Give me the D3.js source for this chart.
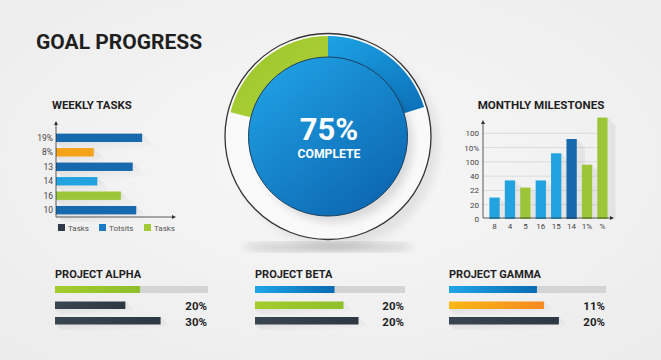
<!DOCTYPE html>
<html>
<head>
<meta charset="utf-8">
<script src="https://cdn.jsdelivr.net/npm/d3@7"></script>
<style>
  html, body { margin: 0; padding: 0; background: #f0f0f0; }
  svg { display: block; font-family: Roboto, "Noto Sans", sans-serif; }
</style>
</head>
<body>
<div class="chart"></div>
<script>
// weekly tasks (horizontal bars)
const weeklyLabels = ["19%", "8%", "13", "14", "16", "10"];
const weeklyValues = [73, 32, 65, 35, 55, 68];
const weeklyColors = ["#1769ad", "#f5a21b", "#1769ad", "#22a3df", "#9cc53a", "#1769ad"];
const weeklyLegend = ["Tasks", "Totsits", "Tasks"];
const weeklyLegendColors = ["#2f3a47", "#1a7cc4", "#a3c93a"];

// monthly milestones (columns)
const monthLabels = ["8", "4", "5", "16", "15", "14", "1%", "%"];
const monthValues = [15, 27, 22, 27, 46, 56, 38, 71];
const monthColors = ["#22a3df", "#22a3df", "#9cc53a", "#22a3df", "#22a3df", "#1769ad", "#9cc53a", "#9cc53a"];
const monthTicks = [0, 10, 20, 30, 40, 50, 60];
const monthTickLabels = ["0", "20", "22", "40", "100", "10%", "100"];

// centre gauge
const goalPercent = "75%";
const goalArcs = [
  {name: "done", start: 0, end: 73},
  {name: "extra", start: -76, end: 0}
];

// projects
const projects = ["PROJECT ALPHA", "PROJECT BETA", "PROJECT GAMMA"];
const projectBars = [
  [55.6, 46, 69],
  [53, 59, 69],
  [56, 60.5, 70]
];
const projectColors = [
  ["green", "dark", "dark"],
  ["blue", "green", "dark"],
  ["blue", "orange", "dark"]
];
const projectLabels = [["", "20%", "30%"], ["", "20%", "20%"], ["", "11%", "20%"]];

const width = 661, height = 360;

const svg = d3.select(".chart").append("svg")
    .attr("width", width)
    .attr("height", height);

const defs = svg.append("defs");

const bg = defs.append("radialGradient").attr("id", "bg").attr("cx", "50%").attr("cy", "45%").attr("r", "70%");
bg.append("stop").attr("offset", "0%").attr("stop-color", "#f7f7f7");
bg.append("stop").attr("offset", "100%").attr("stop-color", "#ececec");

const grad = (id, c1, c2, x2 = "100%", y2 = "0%") => {
    const g = defs.append("linearGradient").attr("id", id)
        .attr("x1", "0%").attr("y1", "0%").attr("x2", x2).attr("y2", y2);
    g.append("stop").attr("offset", "0%").attr("stop-color", c1);
    g.append("stop").attr("offset", "100%").attr("stop-color", c2);
};
grad("g-blue", "#1ea6e6", "#0a6bb3");
grad("g-green", "#a4cc2c", "#8fbf2a");
grad("g-orange", "#fbb714", "#f58a1f");
grad("g-dark", "#3a4552", "#2e3843");
grad("g-disc", "#22a6e8", "#0b66b0", "80%", "100%");
grad("g-arcblue", "#1ca3e4", "#0c70b8", "100%", "100%");
grad("g-arcgreen", "#98c52a", "#b3d33a", "100%", "100%");

const shadowGrad = defs.append("linearGradient").attr("id", "g-shadow")
    .attr("x1", "0%").attr("y1", "0%").attr("x2", "60%").attr("y2", "100%");
shadowGrad.append("stop").attr("offset", "0%").attr("stop-color", "#000").attr("stop-opacity", 0.1);
shadowGrad.append("stop").attr("offset", "100%").attr("stop-color", "#000").attr("stop-opacity", 0);

defs.append("filter").attr("id", "blur").attr("x", "-50%").attr("y", "-50%").attr("width", "200%").attr("height", "200%")
    .append("feGaussianBlur").attr("stdDeviation", 4);

svg.append("rect").attr("width", width).attr("height", height).attr("fill", "url(#bg)");

// long diagonal shadow behind a horizontal bar
const barShadow = (g, x0, x1, y, h, len) => {
    g.append("path")
        .attr("d", `M${x0},${y + h} L${x1},${y} L${x1 + len},${y + len} L${x0 + len * 0.4},${y + h + len * 0.4} Z`)
        .attr("fill", "url(#g-shadow)");
};

svg.append("text")
    .attr("x", 36).attr("y", 49)
    .attr("font-size", 21).attr("font-weight", 700)
    .attr("fill", "#1f1f1f")
    .text("GOAL PROGRESS");

// ---------- weekly tasks ----------
const wk = svg.append("g");
wk.append("text").attr("x", 52).attr("y", 109)
    .attr("font-size", 11.4).attr("font-weight", 700).attr("fill", "#1f1f1f")
    .text("WEEKLY TASKS");

const wx = d3.scaleLinear().domain([0, 100]).range([56, 174]);
const wy = d3.scaleBand().domain(weeklyLabels).range([130, 218]).paddingInner(0.42).paddingOuter(0.25);

weeklyValues.forEach((v, i) => barShadow(wk, wx(0), wx(v), wy(weeklyLabels[i]), wy.bandwidth(), 18));

wk.selectAll("rect.bar")
    .data(weeklyValues)
    .enter().append("rect")
    .attr("class", "bar")
    .attr("x", wx(0))
    .attr("y", (d, i) => wy(weeklyLabels[i]))
    .attr("width", d => wx(d) - wx(0))
    .attr("height", wy.bandwidth())
    .attr("fill", (d, i) => weeklyColors[i]);

wk.selectAll("text.lbl")
    .data(weeklyLabels)
    .enter().append("text")
    .attr("class", "lbl")
    .attr("x", 53)
    .attr("y", d => wy(d) + wy.bandwidth() / 2 + 3)
    .attr("text-anchor", "end")
    .attr("font-size", 8.5).attr("fill", "#444")
    .text(d => d);

wk.append("path").attr("d", "M56,123 V217 H174").attr("fill", "none").attr("stroke", "#333").attr("stroke-width", 0.8);
wk.append("path").attr("d", "M54,125 L56,121 L58,125 Z M172,215 L176,217 L172,219 Z").attr("fill", "#333");

const wl = wk.selectAll("g.leg").data(weeklyLegend).enter().append("g")
    .attr("transform", (d, i) => `translate(${[58, 99, 144][i]},224)`);
wl.append("rect").attr("width", 7).attr("height", 7).attr("fill", (d, i) => weeklyLegendColors[i]);
wl.append("text").attr("x", 10).attr("y", 7).attr("font-size", 8).attr("fill", "#555").text(d => d);

// ---------- monthly milestones ----------
const mm = svg.append("g");
mm.append("text").attr("x", 541).attr("y", 109).attr("text-anchor", "middle")
    .attr("font-size", 11.6).attr("font-weight", 700).attr("fill", "#1f1f1f")
    .text("MONTHLY MILESTONES");

const mx = d3.scaleBand().domain(monthLabels).range([484, 613]).paddingInner(0.33).paddingOuter(0.35);
const my = d3.scaleLinear().domain([0, 70]).range([219, 119]);

mm.append("g").selectAll("line")
    .data(monthTicks.slice(1))
    .enter().append("line")
    .attr("x1", 483).attr("x2", 606)
    .attr("y1", d => my(d)).attr("y2", d => my(d))
    .attr("stroke", "#d6d6d6").attr("stroke-width", 0.8);

mm.selectAll("path.sh")
    .data(monthValues)
    .enter().append("path")
    .attr("class", "sh")
    .attr("d", (d, i) => {
        const x = mx(monthLabels[i]) + mx.bandwidth();
        return `M${x},${my(d)} L${x + 8},${my(d) + 8} L${x + 8},${my(0)} L${x},${my(0)} Z`;
    })
    .attr("fill", "#000").attr("opacity", 0.05);

mm.selectAll("rect.col")
    .data(monthValues)
    .enter().append("rect")
    .attr("class", "col")
    .attr("x", (d, i) => mx(monthLabels[i]))
    .attr("y", d => my(d))
    .attr("width", mx.bandwidth())
    .attr("height", d => my(0) - my(d))
    .attr("fill", (d, i) => monthColors[i]);

const yAxis = d3.axisLeft(my).tickValues(monthTicks).tickSize(0).tickPadding(4)
    .tickFormat((d, i) => monthTickLabels[i]);
const ya = mm.append("g").attr("transform", "translate(483,0)").call(yAxis);
ya.select(".domain").remove();
ya.selectAll("text").attr("font-size", 8).attr("fill", "#444").attr("font-family", "Roboto, sans-serif");

const xAxis = d3.axisBottom(mx).tickSize(0).tickPadding(5);
const xa = mm.append("g").attr("transform", "translate(0,218)").call(xAxis);
xa.select(".domain").remove();
xa.selectAll("text").attr("font-size", 8).attr("fill", "#444").attr("font-family", "Roboto, sans-serif");

mm.append("path").attr("d", "M483,122 V218 H612").attr("fill", "none").attr("stroke", "#333").attr("stroke-width", 0.8);
mm.append("path").attr("d", "M481,124 L483,120 L485,124 Z M610,216 L614,218 L610,220 Z").attr("fill", "#333");

// ---------- centre gauge ----------
const cx = 328, cy = 136.5;
const gauge = svg.append("g");

gauge.append("ellipse").attr("cx", cx).attr("cy", 247).attr("rx", 85).attr("ry", 3)
    .attr("fill", "#000").attr("opacity", 0.28).attr("filter", "url(#blur)");
gauge.append("circle").attr("cx", cx + 8).attr("cy", cy + 8).attr("r", 103)
    .attr("fill", "#000").attr("opacity", 0.07).attr("filter", "url(#blur)");

gauge.append("circle").attr("cx", cx).attr("cy", cy).attr("r", 103)
    .attr("fill", "#f9f9f9").attr("stroke", "#333").attr("stroke-width", 1.3);

const arc = d3.arc().innerRadius(78).outerRadius(100.5);
gauge.selectAll("path.arc")
    .data(goalArcs)
    .enter().append("path")
    .attr("class", "arc")
    .attr("transform", `translate(${cx},${cy})`)
    .attr("d", d => arc({startAngle: d.start * Math.PI / 180, endAngle: d.end * Math.PI / 180}))
    .attr("fill", d => d.name === "done" ? "url(#g-arcblue)" : "url(#g-arcgreen)");

gauge.append("circle").attr("cx", cx + 6).attr("cy", cy + 7).attr("r", 79)
    .attr("fill", "#000").attr("opacity", 0.12).attr("filter", "url(#blur)");
gauge.append("circle").attr("cx", cx).attr("cy", cy).attr("r", 79.5)
    .attr("fill", "url(#g-disc)").attr("stroke", "#1d3f5e").attr("stroke-width", 1);

gauge.append("text").attr("x", cx + 1).attr("y", 139.5).attr("text-anchor", "middle")
    .attr("font-size", 31).attr("font-weight", 700).attr("fill", "#fff")
    .text(goalPercent);
gauge.append("text").attr("x", cx + 1).attr("y", 158).attr("text-anchor", "middle")
    .attr("font-size", 12.2).attr("font-weight", 700).attr("fill", "#fff")
    .text("COMPLETE");

// ---------- projects ----------
const projX = [55, 255, 449];
const projW = [153, 150, 157];
const barY = [286, 301.5, 317];

projects.forEach((name, p) => {
    const g = svg.append("g");
    const px = d3.scaleLinear().domain([0, 100]).range([projX[p], projX[p] + projW[p]]);

    g.append("text").attr("x", projX[p]).attr("y", 278)
        .attr("font-size", 11).attr("font-weight", 700).attr("fill", "#1f1f1f")
        .text(name);

    projectBars[p].forEach((v, i) => {
        if (i > 0) barShadow(g, px(0), px(v), barY[i], 7.5, 14);
    });

    g.append("rect").attr("x", px(0)).attr("y", barY[0])
        .attr("width", px(100) - px(0)).attr("height", 7).attr("fill", "#d4d4d4");

    g.selectAll("rect.pb")
        .data(projectBars[p])
        .enter().append("rect")
        .attr("class", "pb")
        .attr("x", px(0))
        .attr("y", (d, i) => barY[i])
        .attr("width", d => px(d) - px(0))
        .attr("height", (d, i) => i === 0 ? 7 : 7.5)
        .attr("fill", (d, i) => `url(#g-${projectColors[p][i]})`);

    g.selectAll("text.pv")
        .data(projectLabels[p])
        .enter().append("text")
        .attr("class", "pv")
        .attr("x", px(100) - 1)
        .attr("y", (d, i) => barY[i] + 8.5)
        .attr("text-anchor", "end")
        .attr("font-size", 11.5).attr("font-weight", 700).attr("fill", "#1f1f1f")
        .text(d => d);
});
</script>
</body>
</html>
